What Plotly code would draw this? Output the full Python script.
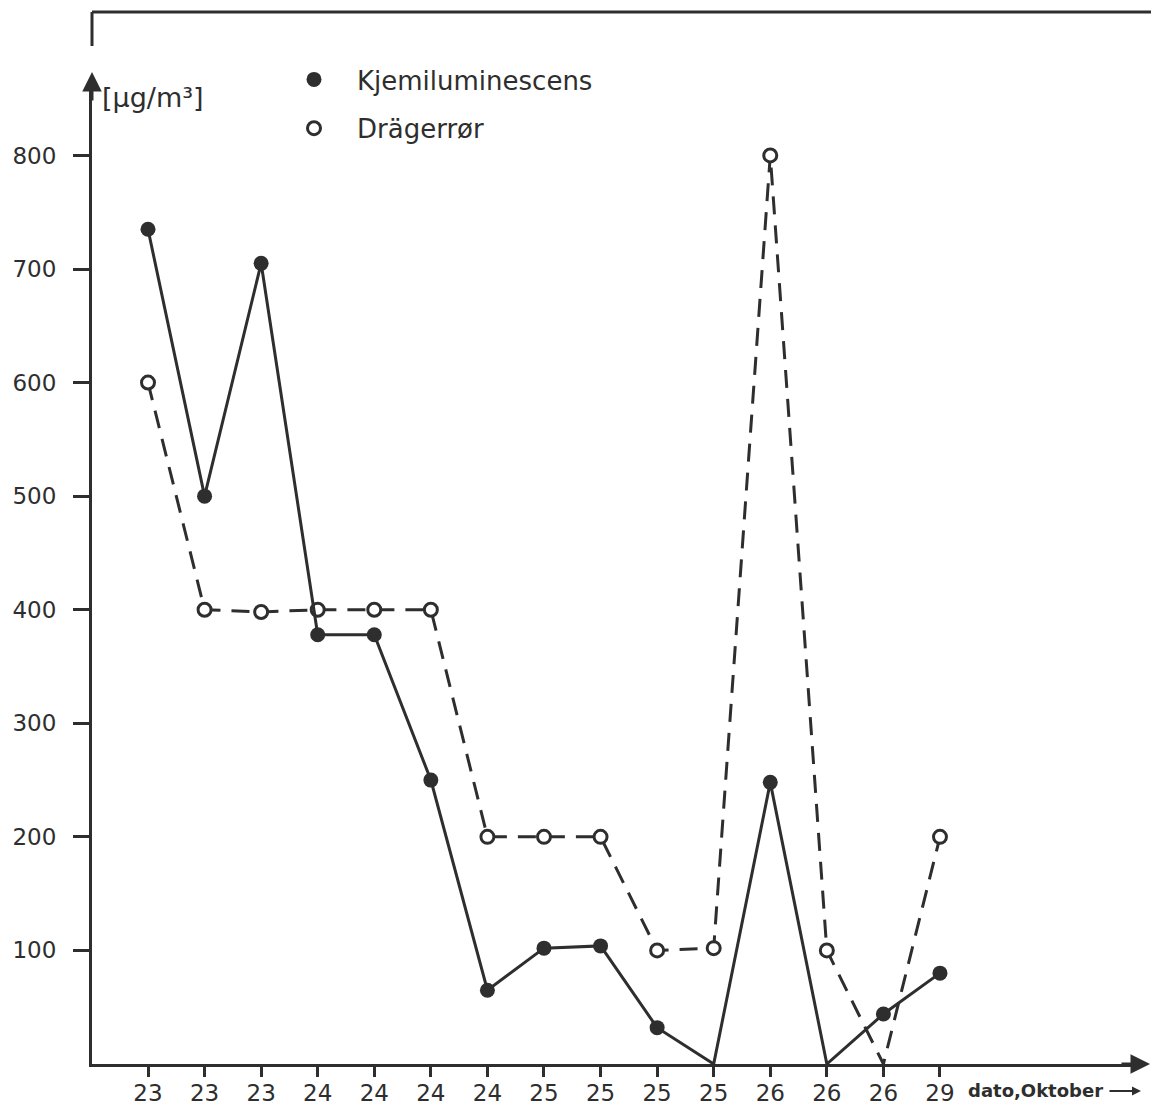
import plotly.graph_objects as go

# Sampling dates (day of October) for each measurement
dates = ["23", "23", "23", "24", "24", "24", "24", "25", "25", "25", "25", "26", "26", "26", "29"]
# NO2 concentration, µg/m³
kjemiluminescens = [735, 500, 705, 378, 378, 250, 65, 102, 104, 32, 0, 248, 0, 44, 80]
draegerror = [600, 400, 398, 400, 400, 400, 200, 200, 200, 100, 102, 800, 100, 0, 200]
y_ticks = [100, 200, 300, 400, 500, 600, 700, 800]

INK = "#2e2e2e"
FONT = "DejaVu Sans"
idx = list(range(len(dates)))

# layout geometry (pixels)
W, H = 1151, 1111
L, R, T, B = 92, 1135, 80, 1064
PX_PER_UNIT = 1.1357
STEP = 56.57
X0 = 148


def px(xp):
    return (xp - L) / (R - L)


def py(yp):
    return (B - yp) / (B - T)


fig = go.Figure()

fig.add_trace(go.Scatter(
    x=idx, y=draegerror, mode="lines+markers", showlegend=False,
    line=dict(color=INK, width=3, dash="18px,11px"),
    marker=dict(symbol="circle", size=13, color="white",
                line=dict(color=INK, width=3),
                opacity=[0 if v == 0 else 1 for v in draegerror]),
))
fig.add_trace(go.Scatter(
    x=idx, y=kjemiluminescens, mode="lines+markers", showlegend=False,
    line=dict(color=INK, width=3),
    marker=dict(symbol="circle", size=15, color=INK,
                opacity=[0 if v == 0 else 1 for v in kjemiluminescens]),
))

# legend entries (marker only)
fig.add_trace(go.Scatter(
    x=[None], y=[None], mode="markers", name="Kjemiluminescens",
    legendgroup="a", marker=dict(symbol="circle", size=15, color=INK),
))
fig.add_trace(go.Scatter(
    x=[None], y=[None], mode="markers", name="Drägerrør",
    legendgroup="b",
    marker=dict(symbol="circle", size=13, color="white", line=dict(color=INK, width=3)),
))

x_lo = -(X0 - L) / STEP
x_hi = (len(dates) - 1) + (R - (X0 + STEP * (len(dates) - 1))) / STEP
y_hi = (B - T) / PX_PER_UNIT

fig.update_layout(
    width=W, height=H,
    margin=dict(l=L, r=W - R, t=T, b=H - B),
    paper_bgcolor="white", plot_bgcolor="white",
    font=dict(family=FONT, color=INK, size=23),
    legend=dict(
        x=px(271), y=py(56), xanchor="left", yanchor="top",
        bgcolor="rgba(0,0,0,0)", borderwidth=0,
        font=dict(size=26, family=FONT, color=INK),
        tracegroupgap=12, itemwidth=76,
    ),
    xaxis=dict(
        range=[x_lo, x_hi], tickmode="array", tickvals=idx, ticktext=dates,
        showgrid=False, zeroline=False, showline=True, linecolor=INK, linewidth=3,
        ticks="outside", ticklen=10, tickwidth=3, tickcolor=INK,
        tickfont=dict(size=23, family=FONT, color=INK), automargin=False,
        ticklabelstandoff=-4,
    ),
    yaxis=dict(
        range=[0, y_hi], tickmode="array", tickvals=y_ticks,
        showgrid=False, zeroline=False, showline=True, linecolor=INK, linewidth=3,
        ticks="outside", ticklen=16, tickwidth=3, tickcolor=INK,
        tickfont=dict(size=23, family=FONT, color=INK),
        ticklabelstandoff=12, automargin=False,
    ),
)

# frame corner at the top
fig.add_shape(type="line", xref="paper", yref="paper",
              x0=px(L), y0=py(12), x1=px(W + 5), y1=py(12),
              line=dict(color=INK, width=3))
fig.add_shape(type="line", xref="paper", yref="paper",
              x0=px(L), y0=py(12), x1=px(L), y1=py(46),
              line=dict(color=INK, width=3))

# axis arrowheads
fig.add_annotation(xref="paper", yref="paper", x=px(L), y=py(72),
                   ax=0, ay=30, showarrow=True, arrowhead=2, arrowsize=1.3,
                   arrowwidth=3, arrowcolor=INK, text="")
fig.add_annotation(xref="paper", yref="paper", x=px(1150), y=0,
                   ax=-30, ay=0, showarrow=True, arrowhead=2, arrowsize=1.3,
                   arrowwidth=3, arrowcolor=INK, text="")

# unit label
fig.add_annotation(xref="paper", yref="paper", x=px(100), y=py(97),
                   xanchor="left", yanchor="middle", showarrow=False,
                   text="[µg/m³]", font=dict(size=27, family=FONT, color=INK))

# x axis caption with arrow
fig.add_annotation(xref="paper", yref="paper", x=px(966), y=py(1090),
                   xanchor="left", yanchor="middle", showarrow=False,
                   text="<b>dato,Oktober</b>", font=dict(size=18, family=FONT, color=INK))
fig.add_annotation(xref="paper", yref="paper", x=px(1141), y=py(1091),
                   ax=-33, ay=0, showarrow=True, arrowhead=2, arrowsize=0.9,
                   arrowwidth=2, arrowcolor=INK, text="")

fig.write_html("out.html")
